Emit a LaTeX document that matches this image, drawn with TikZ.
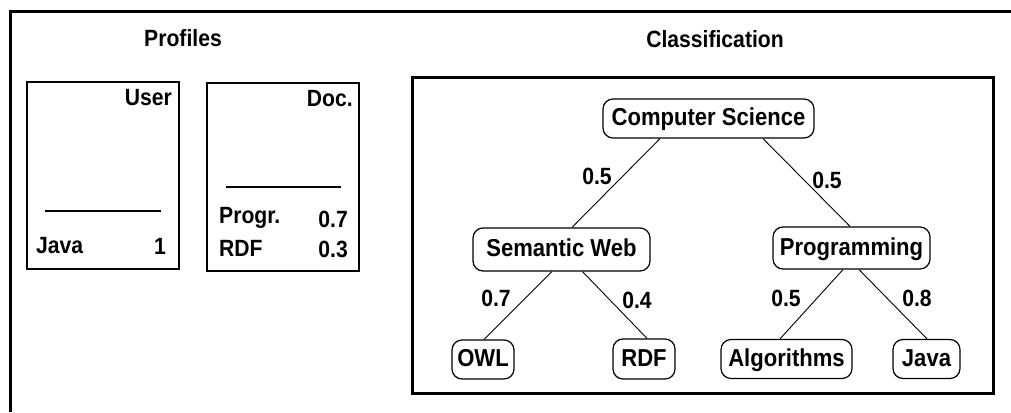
\documentclass[tikz,border=0pt]{standalone}
\usepackage{fontspec}
\setmainfont[FakeStretch=0.9]{Liberation Sans}
\begin{document}
\begin{tikzpicture}[x=1pt,y=-1pt,
  font=\fontsize{23.5pt}{26pt}\selectfont\bfseries,
  frame/.style={line width=3pt},
  pbox/.style={draw, line width=1.2pt, inner sep=0pt},
  txt/.style={inner sep=0pt},
  tnode/.style={draw, line width=1.2pt, rounded corners=10pt, inner sep=0pt,
    text height=18pt, text depth=4pt, font=\fontsize{24.5pt}{26pt}\selectfont\bfseries},
  wlabel/.style={inner sep=0pt},
  edge/.style={line width=0.9pt}]
\useasboundingbox (0,0) rectangle (1011,412);

% outer frame (open on the right and bottom)
\draw[frame] (10.5,412) -- (10.5,11.5) -- (1011,11.5);

% section titles
\node[txt, anchor=base] (tprof) at (183,47) {Profiles};
\node[txt, anchor=base] (tclass) at (715,48) {Classification};

% user profile
\node[pbox, minimum width=152pt, minimum height=187pt] (user) at (103,175.5) {};
\node[txt, anchor=base east] (uhead) at (172,105) {User};
\draw[line width=1.2pt] (45,211) -- (161,211);
\node[txt, anchor=base west] (ujava) at (36,253) {Java};
\node[txt, anchor=base east] (uval) at (166,254) {1};

% document profile
\node[pbox, minimum width=152pt, minimum height=188pt] (doc) at (283,177) {};
\node[txt, anchor=base east] (dhead) at (353,106) {Doc.};
\draw[line width=1.2pt] (226,187) -- (341,187);
\node[txt, anchor=base west] (dprog) at (219,223) {Progr.};
\node[txt, anchor=base east] (dprogv) at (348,227) {0.7};
\node[txt, anchor=base west] (drdf) at (219,256) {RDF};
\node[txt, anchor=base east] (drdfv) at (348,257) {0.3};

% classification frame
\draw[frame] (412,77) rectangle (993,393);

% taxonomy nodes
\node[tnode, minimum width=211pt, minimum height=39pt] (cs)  at (708.5,118.5) {Computer Science};
\node[tnode, minimum width=177pt, minimum height=43pt] (sw)  at (561.5,249.5) {Semantic Web};
\node[tnode, minimum width=157pt, minimum height=42pt] (pg)  at (851.5,248)   {Programming};
\node[tnode, minimum width=62pt,  minimum height=39pt] (owl) at (483,359.5)   {OWL};
\node[tnode, minimum width=62pt,  minimum height=40pt] (rdf) at (644,359)     {RDF};
\node[tnode, minimum width=131pt, minimum height=39pt] (alg) at (786.5,359)   {Algorithms};
\node[tnode, minimum width=67pt,  minimum height=39pt] (jav) at (926.5,359)   {Java};

% taxonomy edges
\draw[edge] ([xshift=-48.5pt]cs.south) -- ([xshift=10.5pt]sw.north);
\draw[edge] ([xshift=54.5pt]cs.south)  -- ([xshift=-1.5pt]pg.north);
\draw[edge] ([xshift=-9.5pt]sw.south)  -- ([xshift=1pt]owl.north);
\draw[edge] ([xshift=21pt]sw.south)    -- ([xshift=3pt]rdf.north);
\draw[edge] ([xshift=-8.5pt]pg.south)  -- ([xshift=-6.5pt]alg.north);
\draw[edge] ([xshift=7.5pt]pg.south)   -- ([xshift=0.5pt]jav.north);

% edge weights
\node[wlabel] (w1) at (597,176) {0.5};
\node[wlabel] (w2) at (827,180) {0.5};
\node[wlabel] (w3) at (496,298) {0.7};
\node[wlabel] (w4) at (637,300) {0.4};
\node[wlabel] (w5) at (786,298) {0.5};
\node[wlabel] (w6) at (917,298) {0.8};
\end{tikzpicture}
\end{document}
